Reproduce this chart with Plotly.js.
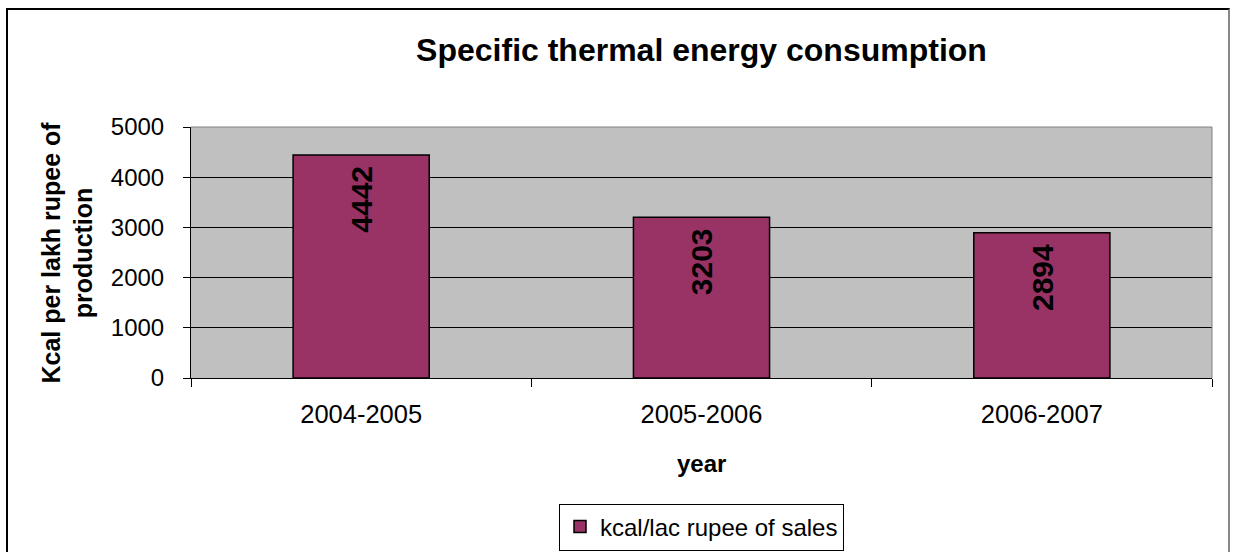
<!DOCTYPE html>
<html>
<head>
<meta charset="utf-8">
<script src="https://cdn.plot.ly/plotly-3.0.1.min.js"></script>
<style>
  html, body { margin: 0; padding: 0; background: #fff; }
  #wrap { position: relative; width: 1233px; height: 552px; }
  #chart { width: 1233px; height: 552px; }
  #frame { position: absolute; left: 6px; top: 8px; width: 1224px; height: 560px;
           border-left: 2px solid #000; border-top: 2px solid #000; border-right: 2px solid #888;
           pointer-events: none; box-sizing: border-box; }
</style>
</head>
<body>
<div id="wrap">
  <div id="chart"></div>
  <div id="frame"></div>
</div>
<script>
const categories = ["2004-2005", "2005-2006", "2006-2007"];
const values = [4442, 3203, 2894];
const seriesName = "kcal/lac rupee of sales";
const yTicks = [0, 1000, 2000, 3000, 4000, 5000];
const chartTitle = "Specific thermal energy consumption";
const yTitle = "Kcal per lakh rupee of<br>production";
const xTitle = "year";

const FONT = "Liberation Sans, Arial, sans-serif";

const trace = {
  type: "bar",
  x: categories,
  y: values,
  name: seriesName,
  marker: { color: "#993366", line: { color: "#000", width: 1.5 } },
  hoverinfo: "skip",
  showlegend: true
};

const labelAnnotations = categories.map((c, i) => ({
  x: c, y: values[i], xref: "x", yref: "y",
  text: String(values[i]), textangle: -90, showarrow: false,
  xanchor: "center", yanchor: "top", yshift: -9,
  font: { family: FONT, size: 30, weight: "bold", color: "#000" }
}));

const layout = {
  width: 1233, height: 552,
  margin: { l: 191, r: 21, t: 127, b: 174, autoexpand: false },
  paper_bgcolor: "#fff",
  plot_bgcolor: "#C0C0C0",
  bargap: 0.6,
  font: { family: FONT, color: "#000" },
  title: { text: chartTitle, font: { family: FONT, size: 32, weight: "bold", color: "#000" },
           x: 0.5, xref: "paper", xanchor: "center", y: 0.91, yref: "container", yanchor: "middle" },
  xaxis: {
    type: "category",
    tickson: "boundaries",
    ticks: "outside", ticklen: 8, tickcolor: "#000", tickwidth: 1,
    showline: true, linecolor: "#000", linewidth: 1,
    showgrid: false, zeroline: false,
    tickfont: { family: FONT, size: 25.5, color: "#000" },
    ticklabelstandoff: 13,
    fixedrange: true
  },
  yaxis: {
    range: [0, 5000],
    tickvals: yTicks,
    ticktext: yTicks.map(String),
    ticks: "outside", ticklen: 7, tickcolor: "#000", tickwidth: 1,
    showline: true, linecolor: "#000", linewidth: 1,
    showgrid: true, gridcolor: "#000", gridwidth: 1,
    zeroline: false,
    tickfont: { family: FONT, size: 24, color: "#000" },
    ticklabelstandoff: 14,
    fixedrange: true
  },
  shapes: [
    { type: "line", xref: "paper", yref: "paper", x0: 0, x1: 1, y0: 1, y1: 1,
      line: { color: "#808080", width: 1 } },
    { type: "line", xref: "paper", yref: "paper", x0: 1, x1: 1, y0: 0, y1: 1,
      line: { color: "#808080", width: 1 } }
  ],
  annotations: [
    { text: yTitle, xref: "paper", yref: "paper", x: 0, y: 0.5, xanchor: "center", yanchor: "middle",
      xshift: -124, textangle: -90, showarrow: false,
      font: { family: FONT, size: 25, weight: "bold", color: "#000" } },
    { text: xTitle, xref: "paper", yref: "paper", x: 0.5, y: 0, xanchor: "center", yanchor: "middle",
      yshift: -85, showarrow: false,
      font: { family: FONT, size: 24, weight: "bold", color: "#000" } }
  ].concat(labelAnnotations),
  legend: {
    orientation: "h",
    x: 0.5, xanchor: "center", y: -0.5, yanchor: "top",
    bordercolor: "#000", borderwidth: 1, bgcolor: "#fff",
    itemwidth: 30,
    font: { family: FONT, size: 24, color: "#000" }
  }
};

Plotly.newPlot("chart", [trace], layout, { displayModeBar: false, staticPlot: true });
</script>
</body>
</html>
